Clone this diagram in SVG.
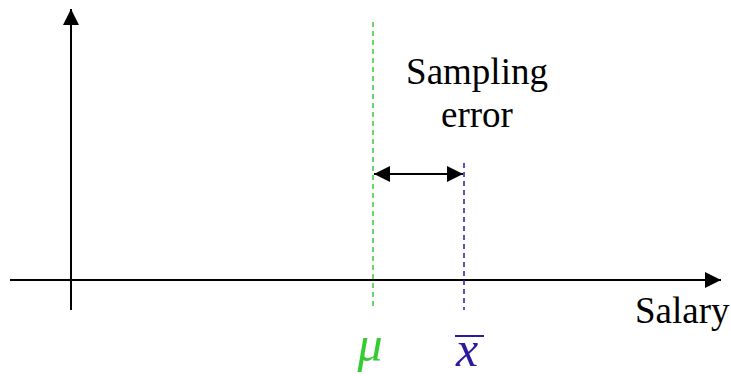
<svg xmlns="http://www.w3.org/2000/svg" width="731" height="376" viewBox="0 0 731 376">
<style>
.ax{stroke:#000;stroke-width:2;fill:none}
.f{font-family:'Liberation Serif','Times New Roman',Times,'DejaVu Serif',serif}
.lbl{font-size:37px;fill:#000}
.m{font-style:italic;font-size:50px}
</style>
<defs>
<marker id="big" viewBox="0 0 10 10" refX="10" refY="5" markerWidth="16" markerHeight="16" markerUnits="userSpaceOnUse" orient="auto-start-reverse"><path d="M0,0L10,5L0,10z" fill="#000"/></marker>
</defs>
<g id="connectors">
<line id="yaxis" class="ax" x1="71" y1="310" x2="71" y2="9" marker-end="url(#big)"/>
<line id="xaxis" class="ax" x1="10" y1="280" x2="721" y2="280" marker-end="url(#big)"/>
<line id="mu-line" x1="373" y1="22" x2="373" y2="310" stroke="#33cc33" stroke-width="1.5" stroke-dasharray="5,4"/>
<line id="xbar-line" x1="464" y1="163" x2="464" y2="310" stroke="#2a1aa0" stroke-width="1.5" stroke-dasharray="5,4"/>
<line id="err" class="ax" x1="374" y1="174" x2="463" y2="174" marker-start="url(#big)" marker-end="url(#big)"/>
</g>
<g id="sampling-error">
<text class="f lbl" x="477" y="84" text-anchor="middle">Sampling</text>
<text class="f lbl" x="477" y="127" text-anchor="middle">error</text>
</g>
<g id="salary"><text class="f lbl" x="635" y="323">Salary</text></g>
<g id="mu"><text class="f m" x="370" y="361" text-anchor="middle" fill="#33cc33">μ</text></g>
<g id="xbar">
<text class="f m" x="467" y="366" text-anchor="middle" fill="#2a1aa0">x</text>
<line x1="455" y1="336" x2="484" y2="336" stroke="#2a1aa0" stroke-width="2"/>
</g>
</svg>
